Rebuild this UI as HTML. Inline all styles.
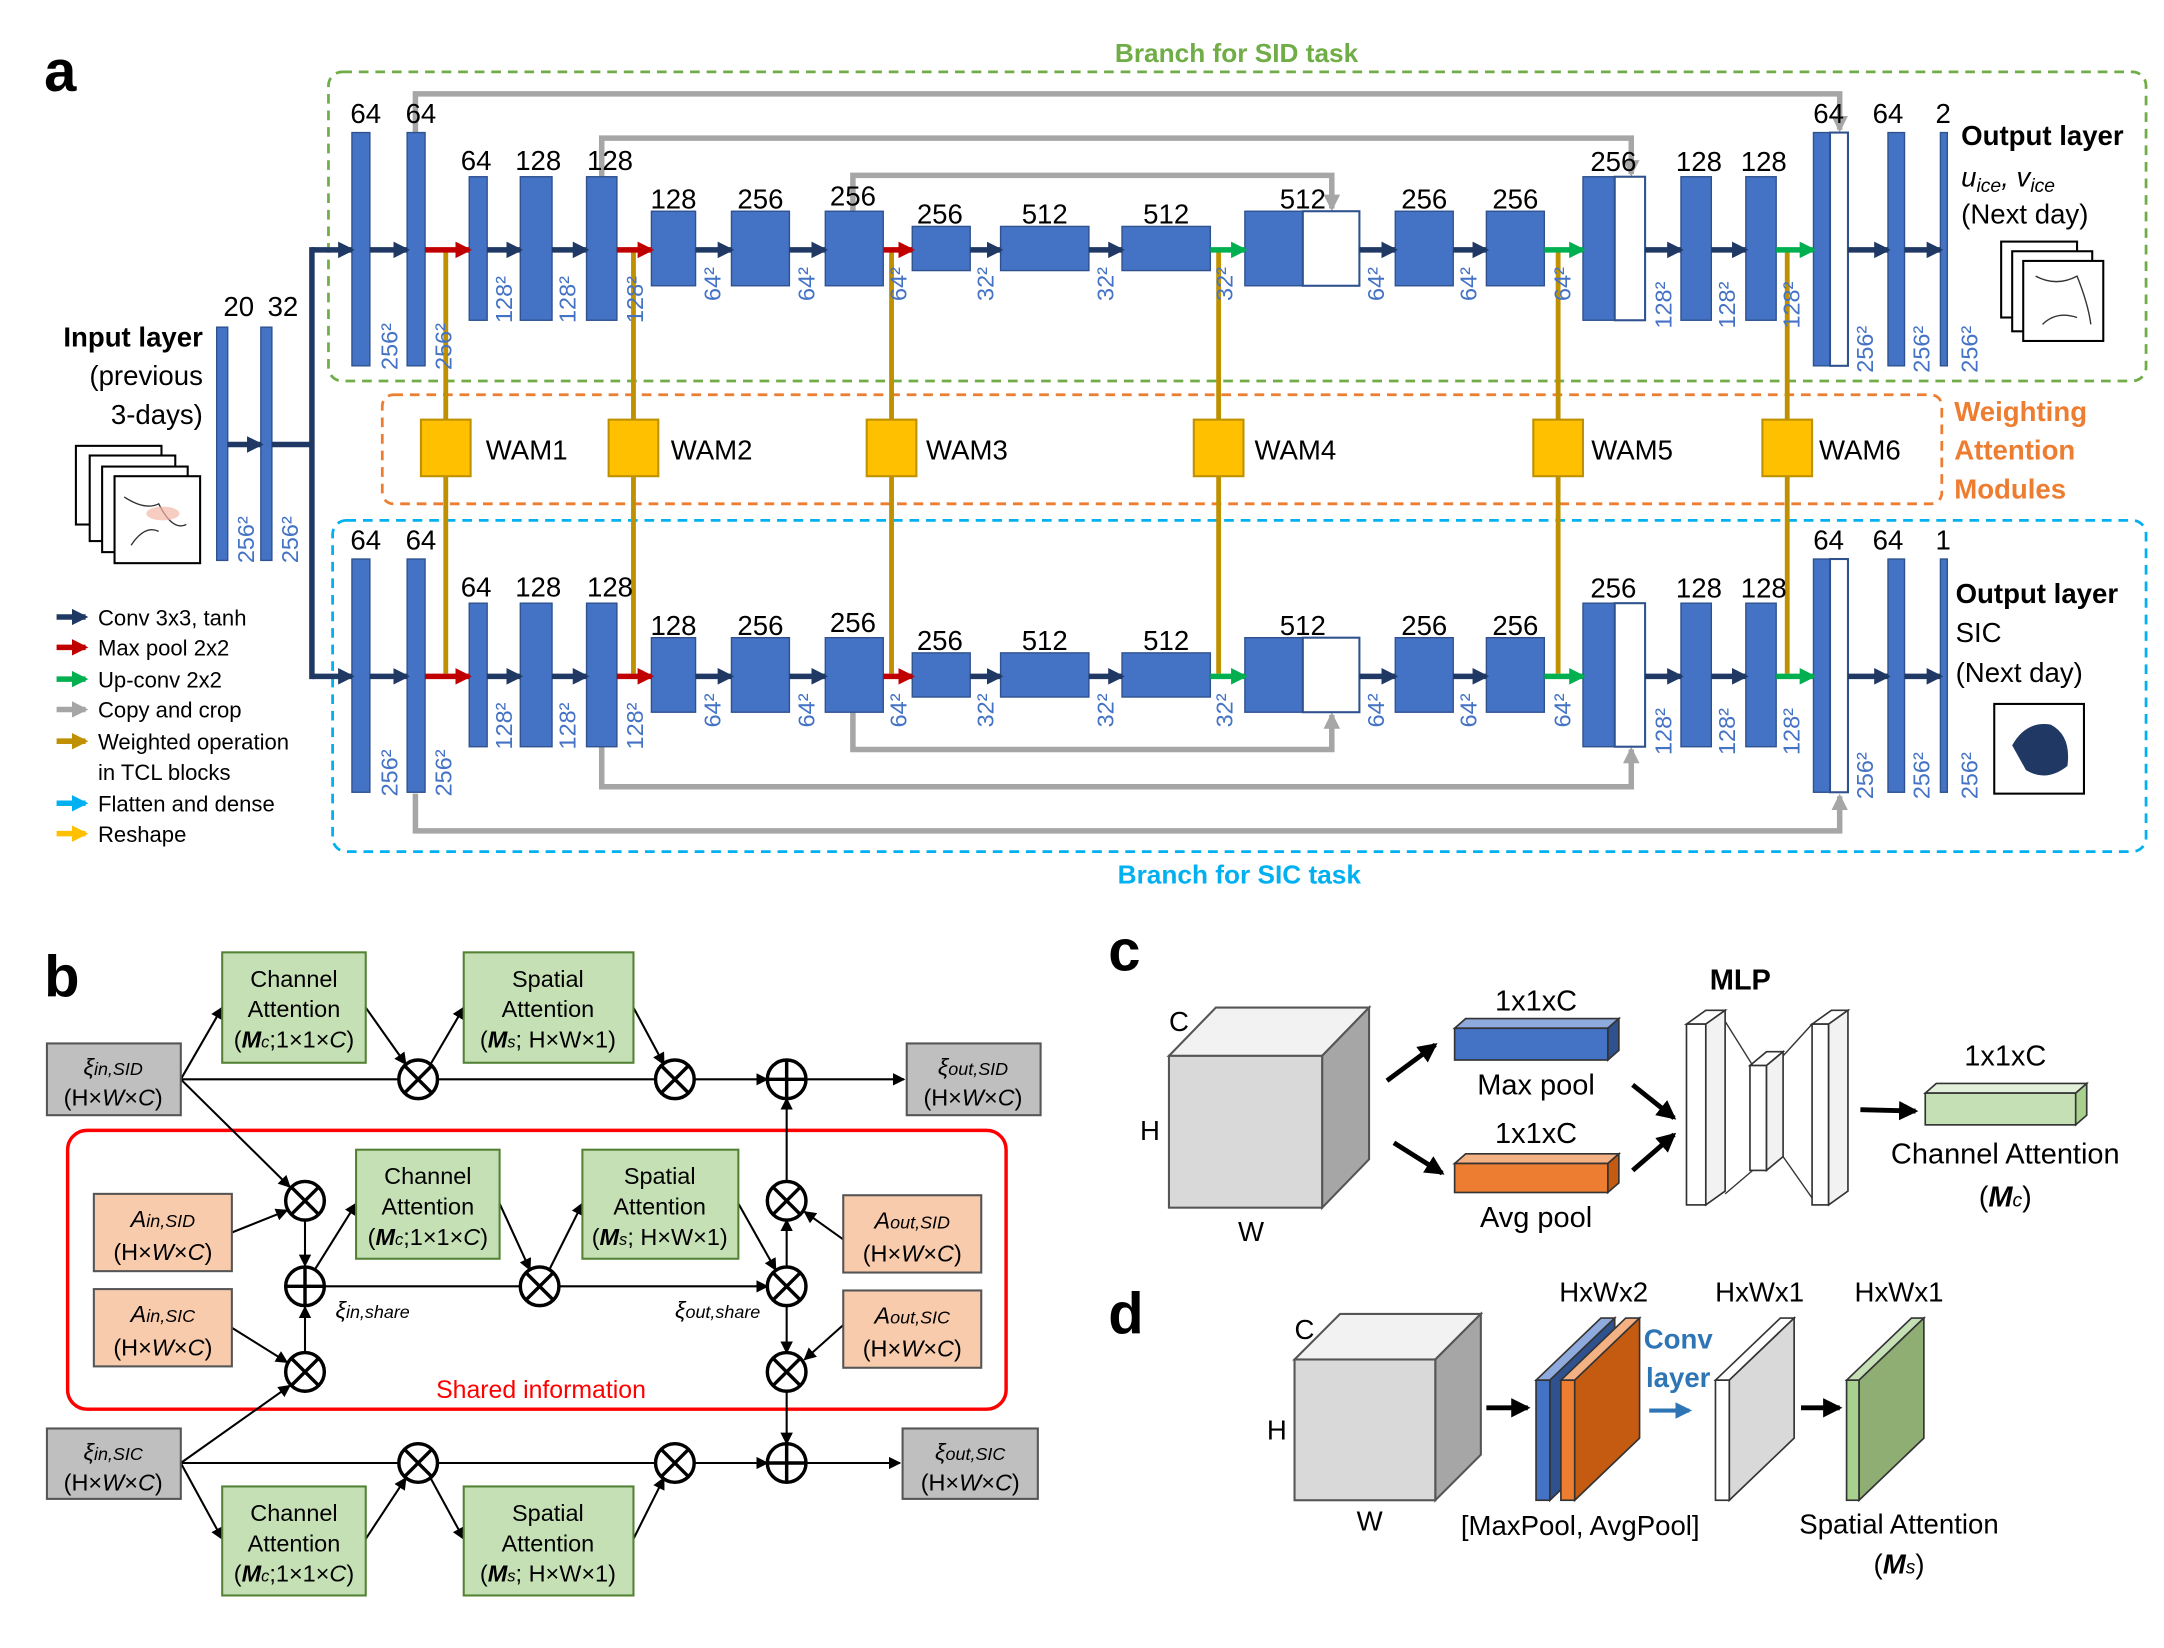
<!DOCTYPE html>
<html><head><meta charset="utf-8"><style>
html,body{margin:0;padding:0;background:#fff}
svg{display:block}
text{font-family:"Liberation Sans",sans-serif}
.n{font-size:20px;fill:#000;text-anchor:middle}
.d{font-size:17px;fill:#4472C4}
.l{font-size:16px;fill:#000}
.s{font-family:"Liberation Serif",serif;font-size:17px;text-anchor:middle}
</style></head><body>
<svg width="2164" height="1648" viewBox="0 0 1568 1194" xmlns="http://www.w3.org/2000/svg">
<defs>
<marker id="mn" markerWidth="12" markerHeight="12" refX="10" refY="6" orient="auto" markerUnits="userSpaceOnUse"><path d="M0,0 L12,6 L0,12 z" fill="#1F3864"/></marker>
<marker id="mr" markerWidth="12" markerHeight="12" refX="10" refY="6" orient="auto" markerUnits="userSpaceOnUse"><path d="M0,0 L12,6 L0,12 z" fill="#C00000"/></marker>
<marker id="mg" markerWidth="12" markerHeight="12" refX="10" refY="6" orient="auto" markerUnits="userSpaceOnUse"><path d="M0,0 L12,6 L0,12 z" fill="#00B050"/></marker>
<marker id="mgr" markerWidth="12" markerHeight="12" refX="10" refY="6" orient="auto" markerUnits="userSpaceOnUse"><path d="M0,0 L12,6 L0,12 z" fill="#A6A6A6"/></marker>
<marker id="mgo" markerWidth="12" markerHeight="12" refX="10" refY="6" orient="auto" markerUnits="userSpaceOnUse"><path d="M0,0 L12,6 L0,12 z" fill="#BF9000"/></marker>
<marker id="mc" markerWidth="12" markerHeight="12" refX="10" refY="6" orient="auto" markerUnits="userSpaceOnUse"><path d="M0,0 L12,6 L0,12 z" fill="#00B0F0"/></marker>
<marker id="my" markerWidth="12" markerHeight="12" refX="10" refY="6" orient="auto" markerUnits="userSpaceOnUse"><path d="M0,0 L12,6 L0,12 z" fill="#FFC000"/></marker>
<marker id="mk" markerWidth="9" markerHeight="9" refX="8" refY="4.5" orient="auto" markerUnits="userSpaceOnUse"><path d="M0,0 L9,4.5 L0,9 z" fill="#000"/></marker>
<marker id="mk2" markerWidth="14" markerHeight="14" refX="12" refY="7" orient="auto" markerUnits="userSpaceOnUse"><path d="M0,0 L14,7 L0,14 z" fill="#000"/></marker>
<marker id="mb" markerWidth="12" markerHeight="12" refX="10" refY="6" orient="auto" markerUnits="userSpaceOnUse"><path d="M0,0 L12,6 L0,12 z" fill="#2E75B6"/></marker>

<g id="branch">
 <g fill="#4472C4" stroke="#2F528F" stroke-width="1">
  <rect x="255" y="96" width="13" height="169"/>
  <rect x="295" y="96" width="13" height="169"/>
  <rect x="340" y="128" width="13" height="104"/>
  <rect x="377" y="128" width="23" height="104"/>
  <rect x="425" y="128" width="22" height="104"/>
  <rect x="472" y="153" width="32" height="54"/>
  <rect x="530" y="153" width="42" height="54"/>
  <rect x="598" y="153" width="42" height="54"/>
  <rect x="661" y="164" width="42" height="32"/>
  <rect x="725" y="164" width="64" height="32"/>
  <rect x="813" y="164" width="64" height="32"/>
  <rect x="902" y="153" width="42" height="54"/>
  <rect x="1011" y="153" width="42" height="54"/>
  <rect x="1077" y="153" width="42" height="54"/>
  <rect x="1147" y="128" width="23" height="104"/>
  <rect x="1218" y="128" width="22" height="104"/>
  <rect x="1265" y="128" width="22" height="104"/>
  <rect x="1314" y="96" width="12" height="169"/>
  <rect x="1368" y="96" width="12" height="169"/>
  <rect x="1406" y="96" width="5" height="169"/>
 </g>
 <g fill="#fff" stroke="#2F528F" stroke-width="1.5">
  <rect x="944" y="153" width="41" height="54"/>
  <rect x="1170" y="128" width="22" height="104"/>
  <rect x="1326" y="96" width="13" height="169"/>
 </g>
 <g stroke-width="4" fill="none">
  <g stroke="#1F3864" marker-end="url(#mn)">
   <line x1="226" y1="181" x2="255" y2="181"/><line x1="268" y1="181" x2="295" y2="181"/>
   <line x1="353" y1="181" x2="377" y2="181"/><line x1="400" y1="181" x2="425" y2="181"/>
   <line x1="504" y1="181" x2="530" y2="181"/><line x1="572" y1="181" x2="598" y2="181"/>
   <line x1="703" y1="181" x2="725" y2="181"/><line x1="789" y1="181" x2="813" y2="181"/>
   <line x1="985" y1="181" x2="1011" y2="181"/><line x1="1053" y1="181" x2="1077" y2="181"/>
   <line x1="1192" y1="181" x2="1218" y2="181"/><line x1="1240" y1="181" x2="1265" y2="181"/>
   <line x1="1339" y1="181" x2="1368" y2="181"/><line x1="1380" y1="181" x2="1406" y2="181"/>
  </g>
  <g stroke="#C00000" marker-end="url(#mr)">
   <line x1="308" y1="181" x2="340" y2="181"/><line x1="447" y1="181" x2="472" y2="181"/><line x1="640" y1="181" x2="661" y2="181"/>
  </g>
  <g stroke="#00B050" marker-end="url(#mg)">
   <line x1="877" y1="181" x2="902" y2="181"/><line x1="1119" y1="181" x2="1147" y2="181"/><line x1="1287" y1="181" x2="1314" y2="181"/>
  </g>
 </g>
 <g class="n">
  <text x="265" y="89">64</text><text x="305" y="89">64</text>
  <text x="345" y="123">64</text><text x="390" y="123">128</text><text x="442" y="123">128</text>
  <text x="488" y="151">128</text><text x="551" y="151">256</text><text x="618" y="149">256</text>
  <text x="681" y="162">256</text><text x="757" y="162">512</text><text x="845" y="162">512</text>
  <text x="944" y="151">512</text><text x="1032" y="151">256</text><text x="1098" y="151">256</text>
  <text x="1169" y="124">256</text><text x="1231" y="124">128</text><text x="1278" y="124">128</text>
  <text x="1325" y="89">64</text><text x="1368" y="89">64</text>
 </g>
 <g class="d">
  <text transform="translate(288,268) rotate(-90)">256²</text>
  <text transform="translate(327,268) rotate(-90)">256²</text>
  <text transform="translate(371,234) rotate(-90)">128²</text>
  <text transform="translate(417,234) rotate(-90)">128²</text>
  <text transform="translate(466,234) rotate(-90)">128²</text>
  <text transform="translate(522,218) rotate(-90)">64²</text>
  <text transform="translate(590,218) rotate(-90)">64²</text>
  <text transform="translate(657,218) rotate(-90)">64²</text>
  <text transform="translate(720,218) rotate(-90)">32²</text>
  <text transform="translate(807,218) rotate(-90)">32²</text>
  <text transform="translate(893,218) rotate(-90)">32²</text>
  <text transform="translate(1003,218) rotate(-90)">64²</text>
  <text transform="translate(1070,218) rotate(-90)">64²</text>
  <text transform="translate(1138,218) rotate(-90)">64²</text>
  <text transform="translate(1211,238) rotate(-90)">128²</text>
  <text transform="translate(1257,238) rotate(-90)">128²</text>
  <text transform="translate(1304,238) rotate(-90)">128²</text>
  <text transform="translate(1357,270) rotate(-90)">256²</text>
  <text transform="translate(1398,270) rotate(-90)">256²</text>
  <text transform="translate(1433,270) rotate(-90)">256²</text>
 </g>
</g>
</defs>

<text x="32" y="66" font-size="42" font-weight="bold">a</text>

<!-- dashed boxes -->
<rect x="238" y="52" width="1317" height="224" rx="10" fill="none" stroke="#70AD47" stroke-width="2" stroke-dasharray="7,5"/>
<rect x="277" y="286" width="1130" height="79" rx="8" fill="none" stroke="#ED7D31" stroke-width="2" stroke-dasharray="7,5"/>
<rect x="241" y="377" width="1314" height="240" rx="10" fill="none" stroke="#00B0F0" stroke-width="2" stroke-dasharray="7,5"/>
<text x="896" y="45" font-size="19" font-weight="bold" fill="#70AD47" text-anchor="middle">Branch for SID task</text>
<text x="898" y="640" font-size="19" font-weight="bold" fill="#00B0F0" text-anchor="middle">Branch for SIC task</text>
<g font-size="20" font-weight="bold" fill="#ED7D31"><text x="1416" y="305">Weighting</text><text x="1416" y="333">Attention</text><text x="1416" y="361">Modules</text></g>

<!-- gray skip -->
<g stroke="#A6A6A6" stroke-width="4" fill="none">
 <polyline points="301,96 301,68 1333,68 1333,94" marker-end="url(#mgr)"/>
 <polyline points="436,128 436,100 1182,100 1182,126" marker-end="url(#mgr)"/>
 <polyline points="618,153 618,127 965,127 965,151" marker-end="url(#mgr)"/>
 <polyline points="301,575 301,602 1333,602 1333,577" marker-end="url(#mgr)"/>
 <polyline points="436,541 436,570 1182,570 1182,543" marker-end="url(#mgr)"/>
 <polyline points="618,516 618,543 965,543 965,518" marker-end="url(#mgr)"/>
</g>

<!-- gold verticals -->
<g stroke="#BF9000" stroke-width="3.5" fill="none">
 <line x1="323" y1="181" x2="323" y2="488"/><line x1="459" y1="181" x2="459" y2="488"/>
 <line x1="646" y1="181" x2="646" y2="488"/><line x1="883" y1="181" x2="883" y2="488"/>
 <line x1="1129" y1="181" x2="1129" y2="488"/><line x1="1295" y1="181" x2="1295" y2="488"/>
</g>

<use href="#branch"/>
<use href="#branch" transform="translate(0,309)"/>
<text x="1408" y="89" class="n">2</text>
<text x="1408" y="398" class="n">1</text>

<!-- WAMs -->
<g fill="#FFC000" stroke="#BF9000" stroke-width="1.5">
 <rect x="305" y="304" width="36" height="41"/><rect x="441" y="304" width="36" height="41"/>
 <rect x="628" y="304" width="36" height="41"/><rect x="865" y="304" width="36" height="41"/>
 <rect x="1111" y="304" width="36" height="41"/><rect x="1277" y="304" width="36" height="41"/>
</g>
<g font-size="20"><text x="352" y="333">WAM1</text><text x="486" y="333">WAM2</text><text x="671" y="333">WAM3</text><text x="909" y="333">WAM4</text><text x="1153" y="333">WAM5</text><text x="1318" y="333">WAM6</text></g>

<!-- input -->
<g fill="#4472C4" stroke="#2F528F"><rect x="157" y="237" width="8" height="169"/><rect x="189" y="237" width="8" height="169"/></g>
<text x="173" y="229" class="n">20</text><text x="205" y="229" class="n">32</text>
<text class="d" transform="translate(184,408) rotate(-90)">256²</text>
<text class="d" transform="translate(216,408) rotate(-90)">256²</text>
<g stroke="#1F3864" stroke-width="4" fill="none">
 <line x1="165" y1="322" x2="189" y2="322" marker-end="url(#mn)"/>
 <polyline points="197,322 226,322"/>
 <line x1="226" y1="179" x2="226" y2="492"/>
</g>
<g font-size="20" text-anchor="end"><text x="147" y="251" font-weight="bold">Input layer</text><text x="147" y="279">(previous</text><text x="147" y="307">3-days)</text></g>
<g fill="#fff" stroke="#000" stroke-width="1.5">
 <rect x="55" y="323" width="62" height="57"/><rect x="65" y="330" width="62" height="62"/><rect x="74" y="338" width="62" height="62"/><rect x="83" y="345" width="62" height="63"/>
</g>
<path d="M90,360 q15,10 25,5 q10,20 20,15 M95,395 q10,-15 20,-10" stroke="#333" fill="none"/>
<ellipse cx="118" cy="372" rx="12" ry="5" fill="#F4B6A6" opacity="0.7"/>

<!-- outputs -->
<g font-size="20"><text x="1421" y="105" font-weight="bold">Output layer</text>
<text x="1421" y="135" font-family="Liberation Serif" font-style="italic">u<tspan font-size="14" dy="4">ice</tspan><tspan dy="-4">, v</tspan><tspan font-size="14" dy="4">ice</tspan></text>
<text x="1421" y="162">(Next day)</text>
<text x="1417" y="437" font-weight="bold">Output layer</text><text x="1417" y="465">SIC</text><text x="1417" y="494">(Next day)</text></g>
<g fill="#fff" stroke="#000" stroke-width="1.5"><rect x="1450" y="175" width="55" height="55"/><rect x="1458" y="182" width="58" height="58"/><rect x="1466" y="189" width="58" height="58"/></g>
<path d="M1475,200 q15,8 30,0 q8,20 10,35 M1480,235 q10,-10 25,-5" stroke="#333" fill="none"/>
<rect x="1445" y="510" width="65" height="65" fill="#fff" stroke="#000" stroke-width="1.5"/>
<path d="M1458,540 q10,-18 28,-15 q15,8 12,30 q-15,12 -30,3 z" fill="#1F3864"/>

<!-- legend -->
<g stroke-width="4">
 <line x1="41" y1="447" x2="62" y2="447" stroke="#1F3864" marker-end="url(#mn)"/>
 <line x1="41" y1="469" x2="62" y2="469" stroke="#C00000" marker-end="url(#mr)"/>
 <line x1="41" y1="492" x2="62" y2="492" stroke="#00B050" marker-end="url(#mg)"/>
 <line x1="41" y1="514" x2="62" y2="514" stroke="#A6A6A6" marker-end="url(#mgr)"/>
 <line x1="41" y1="537" x2="62" y2="537" stroke="#BF9000" marker-end="url(#mgo)"/>
 <line x1="41" y1="582" x2="62" y2="582" stroke="#00B0F0" marker-end="url(#mc)"/>
 <line x1="41" y1="604" x2="62" y2="604" stroke="#FFC000" marker-end="url(#my)"/>
</g>
<g class="l"><text x="71" y="453">Conv 3x3, tanh</text><text x="71" y="475">Max pool 2x2</text><text x="71" y="498">Up-conv 2x2</text><text x="71" y="520">Copy and crop</text><text x="71" y="543">Weighted operation</text><text x="71" y="565">in TCL blocks</text><text x="71" y="588">Flatten and dense</text><text x="71" y="610">Reshape</text></g>

<!-- ===== panel b ===== -->
<text x="32" y="722" font-size="42" font-weight="bold">b</text>
<rect x="49" y="819" width="680" height="202" rx="14" fill="none" stroke="#FF0000" stroke-width="2.5"/>
<text x="392" y="1013" font-size="18" fill="#FF0000" text-anchor="middle">Shared information</text>
<g stroke="#000" stroke-width="1.5" fill="none">
 <!-- top row -->
 <line x1="131" y1="782" x2="289" y2="782"/><line x1="317" y1="782" x2="475" y2="782"/>
 <line x1="503" y1="782" x2="556" y2="782" marker-end="url(#mk)"/><line x1="584" y1="782" x2="655" y2="782" marker-end="url(#mk)"/>
 <line x1="131" y1="782" x2="161" y2="730" marker-end="url(#mk)"/><line x1="265" y1="730" x2="294" y2="771" marker-end="url(#mk)"/>
 <line x1="312" y1="771" x2="336" y2="730" marker-end="url(#mk)"/><line x1="459" y1="730" x2="481" y2="771" marker-end="url(#mk)"/>
 <line x1="131" y1="782" x2="210" y2="860" marker-end="url(#mk)"/>
 <!-- bottom row -->
 <line x1="131" y1="1060" x2="289" y2="1060"/><line x1="317" y1="1060" x2="475" y2="1060"/>
 <line x1="503" y1="1060" x2="556" y2="1060" marker-end="url(#mk)"/><line x1="584" y1="1060" x2="652" y2="1060" marker-end="url(#mk)"/>
 <line x1="131" y1="1060" x2="161" y2="1115" marker-end="url(#mk)"/><line x1="265" y1="1115" x2="294" y2="1071" marker-end="url(#mk)"/>
 <line x1="312" y1="1071" x2="336" y2="1115" marker-end="url(#mk)"/><line x1="459" y1="1115" x2="481" y2="1071" marker-end="url(#mk)"/>
 <line x1="131" y1="1060" x2="210" y2="1004" marker-end="url(#mk)"/>
 <!-- middle -->
 <line x1="168" y1="893" x2="208" y2="877" marker-end="url(#mk)"/>
 <line x1="168" y1="962" x2="208" y2="987" marker-end="url(#mk)"/>
 <line x1="221" y1="884" x2="221" y2="917" marker-end="url(#mk)"/>
 <line x1="221" y1="980" x2="221" y2="947" marker-end="url(#mk)"/>
 <line x1="235" y1="932" x2="377" y2="932"/><line x1="405" y1="932" x2="556" y2="932" marker-end="url(#mk)"/>
 <line x1="228" y1="920" x2="258" y2="872" marker-end="url(#mk)"/><line x1="362" y1="872" x2="384" y2="920" marker-end="url(#mk)"/>
 <line x1="398" y1="920" x2="422" y2="872" marker-end="url(#mk)"/><line x1="535" y1="872" x2="562" y2="920" marker-end="url(#mk)"/>
 <line x1="570" y1="918" x2="570" y2="884" marker-end="url(#mk)"/>
 <line x1="570" y1="856" x2="570" y2="796" marker-end="url(#mk)"/>
 <line x1="570" y1="946" x2="570" y2="980" marker-end="url(#mk)"/>
 <line x1="570" y1="1008" x2="570" y2="1046" marker-end="url(#mk)"/>
 <line x1="611" y1="898" x2="583" y2="878" marker-end="url(#mk)"/>
 <line x1="611" y1="960" x2="583" y2="985" marker-end="url(#mk)"/>
</g>
<g fill="#fff" stroke="#000" stroke-width="2.5">
 <circle cx="303" cy="782" r="14"/><circle cx="489" cy="782" r="14"/><circle cx="570" cy="782" r="14"/>
 <circle cx="303" cy="1060" r="14"/><circle cx="489" cy="1060" r="14"/><circle cx="570" cy="1060" r="14"/>
 <circle cx="221" cy="870" r="14"/><circle cx="221" cy="932" r="14"/><circle cx="221" cy="994" r="14"/>
 <circle cx="391" cy="932" r="14"/>
 <circle cx="570" cy="870" r="14"/><circle cx="570" cy="932" r="14"/><circle cx="570" cy="994" r="14"/>
</g>
<g stroke="#000" stroke-width="2.5">
 <path d="M293,772 l20,20 M313,772 l-20,20 M479,772 l20,20 M499,772 l-20,20 M293,1050 l20,20 M313,1050 l-20,20 M479,1050 l20,20 M499,1050 l-20,20"/>
 <path d="M211,860 l20,20 M231,860 l-20,20 M211,984 l20,20 M231,984 l-20,20 M381,922 l20,20 M401,922 l-20,20"/>
 <path d="M560,860 l20,20 M580,860 l-20,20 M560,922 l20,20 M580,922 l-20,20 M560,984 l20,20 M580,984 l-20,20"/>
 <path d="M556,782 h28 M570,768 v28 M556,1060 h28 M570,1046 v28 M207,932 h28 M221,918 v28"/>
</g>
<g stroke="#555" stroke-width="1.5">
 <rect x="34" y="756" width="97" height="52" fill="#BFBFBF"/><rect x="657" y="756" width="97" height="52" fill="#BFBFBF"/>
 <rect x="34" y="1035" width="97" height="51" fill="#BFBFBF"/><rect x="654" y="1035" width="98" height="51" fill="#BFBFBF"/>
 <rect x="68" y="865" width="100" height="56" fill="#F8CBAD"/><rect x="68" y="934" width="100" height="56" fill="#F8CBAD"/>
 <rect x="611" y="866" width="100" height="56" fill="#F8CBAD"/><rect x="611" y="935" width="100" height="56" fill="#F8CBAD"/>
</g>
<g fill="#C5E0B4" stroke="#548235" stroke-width="1.5">
 <rect x="161" y="690" width="104" height="80"/><rect x="336" y="690" width="123" height="80"/>
 <rect x="161" y="1077" width="104" height="79"/><rect x="336" y="1077" width="123" height="79"/>
 <rect x="258" y="833" width="104" height="79"/><rect x="422" y="833" width="113" height="79"/>
</g>
<g class="s">
 <text x="213" y="715">Channel</text><text x="213" y="737">Attention</text><text x="213" y="759">(<tspan font-weight="bold" font-style="italic">M</tspan><tspan font-size="12" font-style="italic">c</tspan>;1×1×<tspan font-style="italic">C</tspan>)</text>
 <text x="397" y="715">Spatial</text><text x="397" y="737">Attention</text><text x="397" y="759">(<tspan font-weight="bold" font-style="italic">M</tspan><tspan font-size="12" font-style="italic">s</tspan>; H×W×1)</text>
 <text x="213" y="1102">Channel</text><text x="213" y="1124">Attention</text><text x="213" y="1146">(<tspan font-weight="bold" font-style="italic">M</tspan><tspan font-size="12" font-style="italic">c</tspan>;1×1×<tspan font-style="italic">C</tspan>)</text>
 <text x="397" y="1102">Spatial</text><text x="397" y="1124">Attention</text><text x="397" y="1146">(<tspan font-weight="bold" font-style="italic">M</tspan><tspan font-size="12" font-style="italic">s</tspan>; H×W×1)</text>
 <text x="310" y="858">Channel</text><text x="310" y="880">Attention</text><text x="310" y="902">(<tspan font-weight="bold" font-style="italic">M</tspan><tspan font-size="12" font-style="italic">c</tspan>;1×1×<tspan font-style="italic">C</tspan>)</text>
 <text x="478" y="858">Spatial</text><text x="478" y="880">Attention</text><text x="478" y="902">(<tspan font-weight="bold" font-style="italic">M</tspan><tspan font-size="12" font-style="italic">s</tspan>; H×W×1)</text>
 <text x="82" y="779" font-style="italic">ξ<tspan font-size="13">in,SID</tspan></text><text x="82" y="801">(H×<tspan font-style="italic">W</tspan>×<tspan font-style="italic">C</tspan>)</text>
 <text x="705" y="779" font-style="italic">ξ<tspan font-size="13">out,SID</tspan></text><text x="705" y="801">(H×<tspan font-style="italic">W</tspan>×<tspan font-style="italic">C</tspan>)</text>
 <text x="82" y="1058" font-style="italic">ξ<tspan font-size="13">in,SIC</tspan></text><text x="82" y="1080">(H×<tspan font-style="italic">W</tspan>×<tspan font-style="italic">C</tspan>)</text>
 <text x="703" y="1058" font-style="italic">ξ<tspan font-size="13">out,SIC</tspan></text><text x="703" y="1080">(H×<tspan font-style="italic">W</tspan>×<tspan font-style="italic">C</tspan>)</text>
 <text x="118" y="889" font-style="italic">A<tspan font-size="13">in,SID</tspan></text><text x="118" y="913">(H×<tspan font-style="italic">W</tspan>×<tspan font-style="italic">C</tspan>)</text>
 <text x="118" y="958" font-style="italic">A<tspan font-size="13">in,SIC</tspan></text><text x="118" y="982">(H×<tspan font-style="italic">W</tspan>×<tspan font-style="italic">C</tspan>)</text>
 <text x="661" y="890" font-style="italic">A<tspan font-size="13">out,SID</tspan></text><text x="661" y="914">(H×<tspan font-style="italic">W</tspan>×<tspan font-style="italic">C</tspan>)</text>
 <text x="661" y="959" font-style="italic">A<tspan font-size="13">out,SIC</tspan></text><text x="661" y="983">(H×<tspan font-style="italic">W</tspan>×<tspan font-style="italic">C</tspan>)</text>
 <text x="270" y="955" font-style="italic">ξ<tspan font-size="13">in,share</tspan></text>
 <text x="520" y="955" font-style="italic">ξ<tspan font-size="13">out,share</tspan></text>
</g>

<!-- ===== panel c ===== -->
<text x="803" y="703" font-size="42" font-weight="bold">c</text>
<g stroke="#555" stroke-width="1.5">
 <polygon points="847,765 881,730 992,730 958,765" fill="#F2F2F2"/>
 <polygon points="958,765 992,730 992,840 958,875" fill="#A6A6A6"/>
 <rect x="847" y="765" width="111" height="110" fill="#D9D9D9"/>
</g>
<g font-size="20"><text x="847" y="747">C</text><text x="826" y="826">H</text><text x="897" y="899">W</text></g>
<g stroke="#000" stroke-width="3.5">
 <line x1="1005" y1="783" x2="1040" y2="757" marker-end="url(#mk2)"/>
 <line x1="1010" y1="828" x2="1045" y2="850" marker-end="url(#mk2)"/>
 <line x1="1183" y1="786" x2="1213" y2="810" marker-end="url(#mk2)"/>
 <line x1="1183" y1="848" x2="1213" y2="822" marker-end="url(#mk2)"/>
 <line x1="1348" y1="804" x2="1388" y2="805" marker-end="url(#mk2)"/>
</g>
<g stroke="#333" stroke-width="1.2">
 <polygon points="1054,745 1062,738 1173,738 1165,745" fill="#8FAADC"/><polygon points="1165,745 1173,738 1173,761 1165,768" fill="#2F528F"/><rect x="1054" y="745" width="111" height="23" fill="#4472C4"/>
 <polygon points="1054,843 1062,836 1173,836 1165,843" fill="#F4B183"/><polygon points="1165,843 1173,836 1173,857 1165,864" fill="#C55A11"/><rect x="1054" y="843" width="111" height="21" fill="#ED7D31"/>
 <polygon points="1395,792 1403,785 1512,785 1504,792" fill="#E2F0D9"/><polygon points="1504,792 1512,785 1512,808 1504,815" fill="#A9D18E"/><rect x="1395" y="792" width="109" height="23" fill="#C5E0B4"/>
 <polygon points="1222,742 1236,732 1250,732 1236,742" fill="#fff"/><rect x="1222" y="742" width="14" height="131" fill="#fff"/><polygon points="1236,742 1250,732 1250,863 1236,873" fill="#F2F2F2"/>
 <polygon points="1268,772 1280,762 1292,762 1280,772" fill="#fff"/><rect x="1268" y="772" width="12" height="76" fill="#fff"/><polygon points="1280,772 1292,762 1292,838 1280,848" fill="#F2F2F2"/>
 <polygon points="1313,742 1327,732 1339,732 1325,742" fill="#fff"/><rect x="1313" y="742" width="12" height="131" fill="#fff"/><polygon points="1325,742 1339,732 1339,863 1325,873" fill="#F2F2F2"/>
</g>
<g stroke="#333" stroke-width="1"><line x1="1250" y1="740" x2="1270" y2="772"/><line x1="1250" y1="865" x2="1270" y2="848"/><line x1="1292" y1="765" x2="1313" y2="742"/><line x1="1292" y1="838" x2="1313" y2="868"/></g>
<g font-size="21" text-anchor="middle"><text x="1113" y="732">1x1xC</text><text x="1113" y="793">Max pool</text><text x="1113" y="828">1x1xC</text><text x="1113" y="889">Avg pool</text>
<text x="1261" y="717" font-weight="bold">MLP</text><text x="1453" y="772">1x1xC</text><text x="1453" y="843">Channel Attention</text>
<text x="1453" y="874" font-family="Liberation Serif">(<tspan font-weight="bold" font-style="italic">M</tspan><tspan font-size="14" font-style="italic">c</tspan>)</text></g>

<!-- ===== panel d ===== -->
<text x="803" y="966" font-size="42" font-weight="bold">d</text>
<g stroke="#555" stroke-width="1.5">
 <polygon points="938,985 971,952 1073,952 1040,985" fill="#F2F2F2"/>
 <polygon points="1040,985 1073,952 1073,1054 1040,1087" fill="#A6A6A6"/>
 <rect x="938" y="985" width="102" height="102" fill="#D9D9D9"/>
</g>
<g font-size="20"><text x="938" y="970">C</text><text x="918" y="1043">H</text><text x="983" y="1109">W</text></g>
<g stroke="#333" stroke-width="1.2">
 <polygon points="1113,1000 1160,955 1170,955 1123,1000" fill="#8FAADC"/><polygon points="1123,1000 1170,955 1170,1042 1123,1087" fill="#2F528F"/><rect x="1113" y="1000" width="10" height="87" fill="#4472C4"/>
 <polygon points="1131,1000 1178,955 1188,955 1141,1000" fill="#F4B183"/><polygon points="1141,1000 1188,955 1188,1042 1141,1087" fill="#C55A11"/><rect x="1131" y="1000" width="10" height="87" fill="#ED7D31"/>
 <polygon points="1243,1000 1290,955 1300,955 1253,1000" fill="#fff"/><polygon points="1253,1000 1300,955 1300,1042 1253,1087" fill="#D9D9D9"/><rect x="1243" y="1000" width="10" height="87" fill="#fff"/>
 <polygon points="1338,1000 1385,955 1394,955 1347,1000" fill="#C5E0B4"/><polygon points="1347,1000 1394,955 1394,1042 1347,1087" fill="#8FAE74"/><rect x="1338" y="1000" width="9" height="87" fill="#A9D18E"/>
</g>
<g stroke="#000" stroke-width="3.5">
 <line x1="1077" y1="1020" x2="1107" y2="1020" marker-end="url(#mk2)"/>
 <line x1="1305" y1="1020" x2="1333" y2="1020" marker-end="url(#mk2)"/>
</g>
<line x1="1195" y1="1022" x2="1224" y2="1022" stroke="#2E75B6" stroke-width="3" marker-end="url(#mb)"/>
<g font-size="20" text-anchor="middle"><text x="1162" y="943">HxWx2</text><text x="1275" y="943">HxWx1</text><text x="1376" y="943">HxWx1</text>
<text x="1216" y="977" font-weight="bold" fill="#2E75B6">Conv</text><text x="1216" y="1005" font-weight="bold" fill="#2E75B6">layer</text>
<text x="1145" y="1112">[MaxPool, AvgPool]</text><text x="1376" y="1111">Spatial Attention</text>
<text x="1376" y="1140" font-family="Liberation Serif">(<tspan font-weight="bold" font-style="italic">M</tspan><tspan font-size="14" font-style="italic">s</tspan>)</text></g>
</svg>
</body></html>
